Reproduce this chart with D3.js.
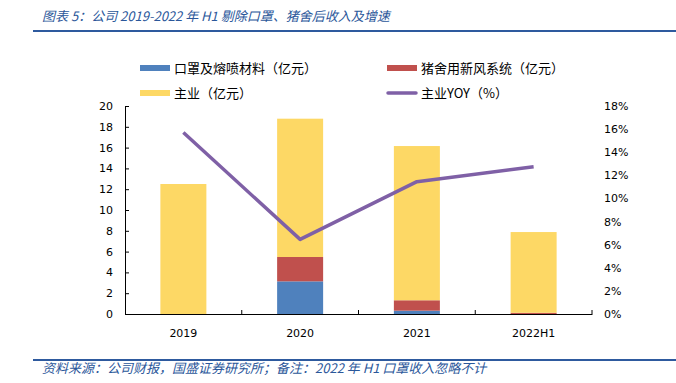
<html>
<script src='https://d3js.org/d3.v7.min.js'></script>
<style>
body {margin:0; background:#fff;}
text {font-family: "DejaVu Sans", sans-serif; fill:#000;}
.cjk {font-family: "Noto Sans CJK SC", sans-serif;}
</style>
<body onload='init()'>
<svg width=676 height=383></svg>
<script>
var categories = ["2019", "2020", "2021", "2022H1"];
var mask = [0, 3.14, 0.32, 0];          // 口罩及熔喷材料（亿元）
var pigHouse = [0, 2.34, 1.0, 0.12];    // 猪舍用新风系统（亿元）
var mainBiz = [12.5, 13.3, 14.83, 7.76]; // 主业（亿元）
var mainYoy = [0.157, 0.0646, 0.1145, 0.1275]; // 主业YOY（%）
var leftTicks = [0, 2, 4, 6, 8, 10, 12, 14, 16, 18, 20];
var rightTicks = [0, 0.02, 0.04, 0.06, 0.08, 0.10, 0.12, 0.14, 0.16, 0.18];

function init() {
var svg = d3.select("svg");

var x = d3.scaleBand().domain(categories).range([125, 592]);
var yL = d3.scaleLinear().domain([0, 20]).range([314, 106]);
var yR = d3.scaleLinear().domain([0, 0.18]).range([314, 106]);
var barW = 46;

// title + rules
svg.append("text").attr("class", "cjk")
  .attr("x", 42).attr("y", 21)
  .style("font-style", "italic").style("font-size", "13px").style("fill", "#2B579A")
  .text("图表 5：公司 2019-2022 年 H1 剔除口罩、猪舍后收入及增速");
svg.append("line").attr("x1", 33).attr("x2", 676).attr("y1", 31).attr("y2", 31)
  .attr("stroke", "#2E5A9E").attr("stroke-width", 2);
svg.append("line").attr("x1", 33).attr("x2", 676).attr("y1", 360).attr("y2", 360)
  .attr("stroke", "#2E5A9E").attr("stroke-width", 2);
svg.append("text").attr("class", "cjk")
  .attr("x", 42).attr("y", 373)
  .style("font-style", "italic").style("font-size", "13px").style("fill", "#2B579A")
  .text("资料来源：公司财报，国盛证券研究所；备注：2022 年 H1 口罩收入忽略不计");

// stacked bars
var rows = categories.map(function(c, i) {
  return {cat: c, mask: mask[i], pig: pigHouse[i], main: mainBiz[i]};
});
var stack = d3.stack().keys(["mask", "pig", "main"])(rows);
var colors = {mask: "#4F81BD", pig: "#C0504D", main: "#FDD865"};
svg.append("g").selectAll("g")
  .data(stack).enter().append("g")
    .attr("fill", function(d) { return colors[d.key]; })
  .selectAll("rect")
    .data(function(d) { return d; }).enter().append("rect")
    .attr("x", function(d) { return x(d.data.cat) + x.bandwidth() / 2 - barW / 2; })
    .attr("width", barW)
    .attr("y", function(d) { return yL(d[1]); })
    .attr("height", function(d) { return yL(d[0]) - yL(d[1]); });

// left axis
var gl = svg.append("g").attr("transform", "translate(125,0)")
  .call(d3.axisLeft(yL).tickValues(leftTicks).tickSize(-4).tickPadding(12).tickSizeOuter(0));
gl.selectAll("text").style("font-size", "11px").style("font-family", "DejaVu Sans");
gl.selectAll("line, path").attr("stroke", "#000");

// right axis
var gr = svg.append("g").attr("transform", "translate(592,0)")
  .call(d3.axisRight(yR).tickValues(rightTicks).tickSize(0).tickPadding(12).tickFormat(d3.format(".0%")));
gr.select(".domain").remove();
gr.selectAll("text").style("font-size", "11px").style("font-family", "DejaVu Sans");

// bottom axis
var gb = svg.append("g").attr("transform", "translate(0,314)")
  .call(d3.axisBottom(x).tickSize(0).tickPadding(15));
gb.select(".domain").attr("stroke", "#000");
gb.selectAll("text").style("font-size", "11px").style("font-family", "DejaVu Sans");
var bounds = categories.map(function(c) { return x(c) + x.step(); });
gb.selectAll(".bound").data(bounds).enter().append("line")
  .attr("x1", function(d) { return d; }).attr("x2", function(d) { return d; })
  .attr("y1", 0).attr("y2", -4).attr("stroke", "#000");

// line
var line = d3.line()
  .x(function(d, i) { return x(categories[i]) + x.bandwidth() / 2; })
  .y(function(d) { return yR(d); });
svg.append("path").datum(mainYoy)
  .attr("d", line).attr("fill", "none")
  .attr("stroke", "#7F60A6").attr("stroke-width", 3.5).attr("stroke-linejoin", "round");

// legend
var legend = [
  {name: "口罩及熔喷材料（亿元）", color: colors.mask, type: "rect", x: 140, y: 68},
  {name: "猪舍用新风系统（亿元）", color: colors.pig, type: "rect", x: 387, y: 68},
  {name: "主业（亿元）", color: colors.main, type: "rect", x: 140, y: 93},
  {name: "主业YOY（%）", color: "#7F60A6", type: "line", x: 387, y: 93}
];
var lg = svg.append("g").selectAll("g").data(legend).enter().append("g")
  .attr("transform", function(d) { return "translate(" + d.x + "," + d.y + ")"; });
lg.filter(function(d) { return d.type == "rect"; }).append("rect")
  .attr("x", 0).attr("y", -3).attr("width", 30).attr("height", 6)
  .attr("fill", function(d) { return d.color; });
lg.filter(function(d) { return d.type == "line"; }).append("line")
  .attr("x1", 1).attr("x2", 29).attr("y1", 0).attr("y2", 0)
  .attr("stroke", function(d) { return d.color; }).attr("stroke-width", 3.5)
  .attr("stroke-linecap", "round");
lg.append("text").attr("class", "cjk")
  .attr("x", 34).attr("dy", "0.36em")
  .style("font-size", "13px")
  .text(function(d) { return d.name; });
}
</script>
</body>
</html>
